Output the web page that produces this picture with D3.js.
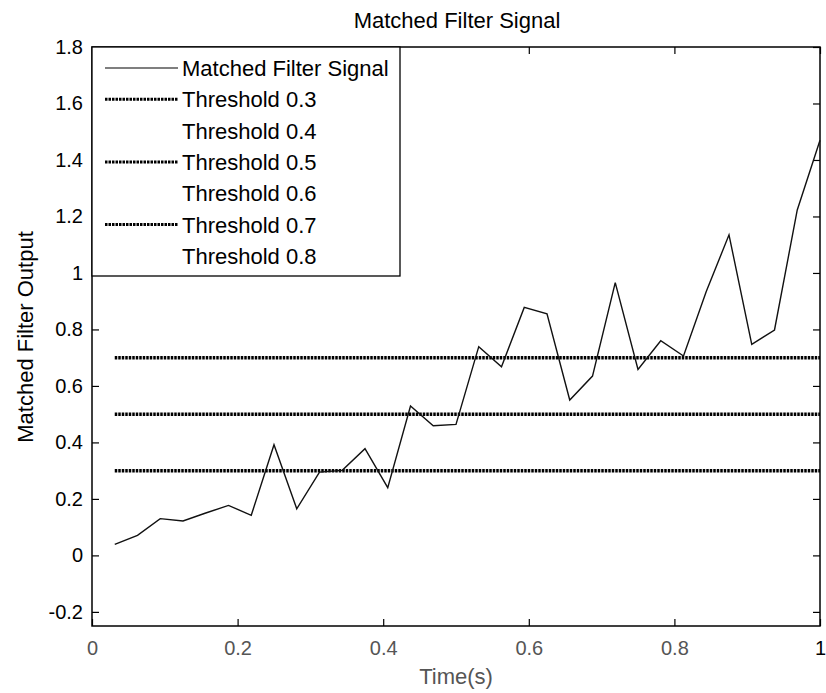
<!DOCTYPE html>
<html><head><meta charset="utf-8">
<script src="https://cdn.jsdelivr.net/npm/d3@7"></script>
<style>body{margin:0;background:#fff}text{font-family:"Liberation Sans",Arial,sans-serif}</style>
</head><body><svg id="c" width="826" height="693"></svg>
<script>
const times = d3.range(1,33).map(k=>k/32);
const signal = [0.039,0.071,0.130,0.122,0.150,0.177,0.142,0.392,0.165,0.295,0.301,0.378,0.240,0.529,0.459,0.464,
0.739,0.668,0.878,0.855,0.550,0.635,0.966,0.658,0.760,0.706,0.934,1.135,0.747,0.798,1.223,1.470];
const thresholds = [0.3,0.4,0.5,0.6,0.7,0.8];
const visibleThresholds = [0.3,0.5,0.7];
const legendLabels = ["Matched Filter Signal","Threshold 0.3","Threshold 0.4","Threshold 0.5","Threshold 0.6","Threshold 0.7","Threshold 0.8"];
const xTicks = [0,0.2,0.4,0.6,0.8,1];
const yTicks = [-0.2,0,0.2,0.4,0.6,0.8,1,1.2,1.4,1.6,1.8];

const svg = d3.select("#c");
const L=92,R=820,T=47,B=626;
const x = d3.scaleLinear().domain([0,1]).range([L,R]);
const y = d3.scaleLinear().domain([-0.25,1.8]).range([B,T]);
const fmt = d => String(+d.toFixed(1));

const ax = svg.append("g").attr("transform",`translate(0,${B})`).call(d3.axisBottom(x).tickValues(xTicks).tickSizeInner(-7).tickSizeOuter(0).tickPadding(15).tickFormat(fmt));
const ay = svg.append("g").attr("transform",`translate(${L},0)`).call(d3.axisLeft(y).tickValues(yTicks).tickSizeInner(-7).tickSizeOuter(0).tickPadding(9).tickFormat(fmt));
const axT = svg.append("g").attr("transform",`translate(0,${T})`).call(d3.axisTop(x).tickValues(xTicks).tickSizeInner(-7).tickSizeOuter(0).tickFormat(""));
const ayR = svg.append("g").attr("transform",`translate(${R},0)`).call(d3.axisRight(y).tickValues(yTicks).tickSizeInner(-7).tickSizeOuter(0).tickFormat(""));
[ax,ay,axT,ayR].forEach(g=>{g.select(".domain").remove();g.selectAll("line").attr("stroke","#000").attr("stroke-width",1.2);g.selectAll("text").attr("font-size",20).attr("fill","#000");});
ax.selectAll("text").attr("fill",d=>d===1?"#000":"#555");
svg.append("rect").attr("x",L).attr("y",T).attr("width",R-L).attr("height",B-T).attr("fill","none").attr("stroke","#000").attr("stroke-width",1.5);

svg.selectAll("line.th").data(visibleThresholds).join("line").attr("class","th")
 .attr("x1",x(times[0])).attr("x2",x(1)).attr("y1",d=>y(d)).attr("y2",d=>y(d))
 .attr("stroke","#000").attr("stroke-width",3.5).attr("stroke-dasharray","2.5,1");

svg.append("path").datum(signal).attr("fill","none").attr("stroke","#111").attr("stroke-width",1.4)
 .attr("d",d3.line().x((d,i)=>x(times[i])).y(d=>y(d)));

const lg = svg.append("g");
lg.append("rect").attr("x",L).attr("y",T).attr("width",400-L).attr("height",276-T).attr("fill","#fff").attr("stroke","#000").attr("stroke-width",1.3);
legendLabels.forEach((lab,i)=>{
  const cy = 68 + i*31.3;
  if(i===0){
    lg.append("line").attr("x1",105).attr("x2",178).attr("y1",cy).attr("y2",cy).attr("stroke","#000").attr("stroke-width",1.2);
  } else if(visibleThresholds.includes(thresholds[i-1])){
    lg.append("line").attr("x1",105).attr("x2",178).attr("y1",cy).attr("y2",cy).attr("stroke","#000").attr("stroke-width",3).attr("stroke-dasharray","2.5,1");
  }
  lg.append("text").attr("x",182).attr("y",cy+8).attr("font-size",22).text(lab);
});

svg.append("text").attr("x",457).attr("y",28).attr("text-anchor","middle").attr("font-size",22).text("Matched Filter Signal");
svg.append("text").attr("x",456).attr("y",684).attr("text-anchor","middle").attr("font-size",22).attr("fill","#555").text("Time(s)");
svg.append("text").attr("transform","translate(33,337) rotate(-90)").attr("text-anchor","middle").attr("font-size",22).text("Matched Filter Output");
</script></body></html>
